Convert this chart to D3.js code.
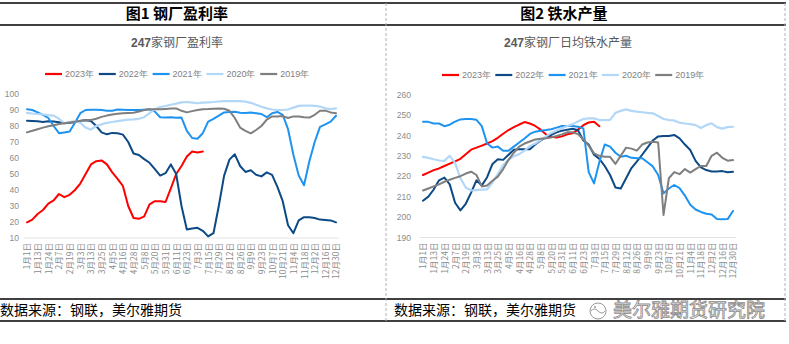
<!DOCTYPE html>
<html><head><meta charset="utf-8">
<script src="https://cdn.jsdelivr.net/npm/d3@7"></script>
<style>
html,body{margin:0;padding:0;background:#fff;}
svg{display:block;}
</style></head>
<body>
<svg id="c" width="789" height="344"></svg>
<script>
// ---------- DATA ----------
const categories = ["1月1日","1月7日","1月13日","1月18日","1月24日","1月31日","2月7日","2月13日","2月19日","2月25日",
"3月3日","3月8日","3月13日","3月19日","3月25日","3月30日","4月5日","4月10日","4月16日","4月22日",
"4月28日","5月3日","5月8日","5月14日","5月20日","5月25日","5月31日","6月5日","6月11日","6月17日",
"6月23日","6月28日","7月3日","7月8日","7月15日","7月22日","7月29日","8月5日","8月12日","8月19日",
"8月26日","9月2日","9月9日","9月16日","9月23日","9月30日","10月7日","10月14日","10月21日","10月28日",
"11月4日","11月11日","11月18日","11月25日","12月2日","12月9日","12月16日","12月23日","12月30日"];
const tickLabels = categories.filter((d,i)=>i%2===0);
const seriesNames = ["2023年","2022年","2021年","2020年","2019年"];
const seriesColors = ["#ff0000","#0d4a85","#1f93f0","#b3d7f7","#7f7f7f"];

const profitTicks = [10,20,30,40,50,60,70,80,90,100];
const profit2023 = [19.8,21.5,25,27.5,31.5,33.5,37.5,35.5,37,40,44,50,56,58,58.5,56,51,47,42.5,30,22.5,22,23.5,31,33,33,32.5,41,50,55,61,64,63.5,64];
const profit2022 = [83.3,83.2,83,82.5,83,82.8,82.3,81.7,82,82.3,83.2,83.6,83.1,80,76,74.8,75.7,75.5,74.6,70,62.8,61.9,59.3,57,53,49,50.5,56,50,30,15.3,16,16.4,14.5,11,13,30,49,59,62.3,55,51.3,52.3,49.5,48.5,51,49.5,42,33,18,13,21,23,23,22.5,21.5,21.25,21,19.8];
const profit2021 = [90.5,90,88.5,87,85,80,75.5,76,76.5,82,88,90,90.2,90.2,90,89.6,89.5,90.3,90.2,90,90,90,90.2,90.4,89,85.5,85.3,85.5,85.2,85.3,77,72.5,72,75.5,82.7,84.5,86.5,88.5,88.8,88.9,88.3,88.2,88.5,88,87.5,85.5,88,88.8,87,78,62,49,43,58,70,79.5,81,82.7,86.4];
const profit2020 = [88.2,87.8,87.5,87.2,86.8,86.5,84.5,81.7,82.5,83,82,79,77.7,80,81,82,82.5,83,83.5,84,84.2,84.5,85.5,88,90.5,91.8,92.5,93.3,94,94.8,95,94.6,94.2,94.6,94.8,95,95.3,95.5,95.5,95.5,95.5,95.2,94.5,93.3,92,91,90.3,90,90,90.3,91.5,92.6,92.7,92.7,92.6,92.2,91,90.5,91];
const profit2019 = [76,77,78,79,79.8,80.5,81.2,81.7,82.2,82.7,83.3,83.7,83.7,84.5,85.7,86.5,87.2,87.6,88,88.2,88.3,89,90,90.4,90.4,90.5,90.7,90.9,91,89.5,88.5,89.3,90,90.5,90.6,90.8,91,90.8,89.5,85,79,77,75.4,77.5,80,84,86,86,86.2,85,86,86,85.5,85.3,87,89.5,89.6,88.5,88];

const ironTicks = [190,200,210,220,230,240,250,260];
const iron2023 = [220.6,221.8,223,223.8,225,226.2,227.3,228.5,230.8,233,234,235,236,237.2,238.8,240.8,242.6,244,245.3,246.5,245.8,244.6,242.8,240.5,239.3,239,239.5,240.5,241,242.8,245,246.3,246.7,244.5];
const iron2022 = [208,210,213.5,218,219.3,216,207,203.3,206.5,212,218,215.5,219.5,226,228.3,228,230.5,233,233.2,233.2,233.2,235.5,237.5,239,240.3,241.5,242.3,242.8,243.2,242.5,237.5,235.5,230.5,228.5,225,220.6,214.5,214,219,224,227.1,230.5,234,237.5,239.5,239.7,239.7,240.2,238.5,235.5,232.8,227.5,224.3,223,222.3,222.3,222.5,221.9,222.2];
const iron2021 = [246.6,246.6,245.8,245.8,244.5,245.2,246.7,247.8,248,248,247.6,244.5,236,234,234.5,232.5,232.5,234.5,236.5,238.5,240.7,241.8,242.3,242.6,243,243.8,244.6,244.6,244.6,244.2,243.4,222,216.5,227,235.5,234.5,231.5,229.5,230,229,228.8,228.8,226.8,224.8,220.6,211.6,214,215.7,214.2,210.5,206,203.7,202.5,201.6,201.3,199,198.9,199,203];
const iron2020 = [229.5,229,228.3,227.7,227.5,230,226.5,219,214.5,213,213.2,213.4,213.6,217,221,225.5,228,229.8,230.8,232.5,234.8,236,237.8,239.5,241.2,242.4,243.5,244.6,245.5,246.8,248,248.3,248.3,247.5,247.5,247.6,251,252,252.7,252,251.6,251.3,251,250.8,249.5,248,247.5,247.3,246.2,245.8,245.5,245,243.6,245,245.9,244,243.3,244,244.2];
const iron2019 = [213,214,215,216,217.3,218.3,219.2,220,221.3,222.2,220.6,215,215.5,217.8,219.8,223.5,228,231.5,234.5,236,237,238,238.3,238.6,239,239.7,240.5,241.5,241.5,240.6,238,235,231.2,230,229.5,229.5,226,230,234,233.5,232.5,235.5,236.5,236.9,236.5,201,219,222,221,223.5,221.8,223.5,225,225,230,231.5,229,227.6,227.9];

// ---------- DRAW ----------
const svg = d3.select("#c");
const CJK = "'Noto Sans CJK SC','Noto Sans',sans-serif";
const LAT = "'Liberation Sans','DejaVu Sans',sans-serif";

// frame lines
const frame = svg.append("g");
[3,25,299,321].forEach(y=>{
  frame.append("line").attr("x1",0).attr("x2",786).attr("y1",y).attr("y2",y)
    .attr("stroke","#000").attr("stroke-width",1.3);
});
[386,785].forEach(x=>{
  frame.append("line").attr("x1",x).attr("x2",x).attr("y1",3).attr("y2",322)
    .attr("stroke","#b0b0b0").attr("stroke-width",1).attr("stroke-dasharray","3,2");
});

// titles
svg.append("text").attr("x",177).attr("y",19).attr("text-anchor","middle")
  .attr("font-family",CJK).attr("font-size",15).attr("font-weight","bold").text("图1 钢厂盈利率");
svg.append("text").attr("x",564).attr("y",19).attr("text-anchor","middle")
  .attr("font-family",CJK).attr("font-size",15).attr("font-weight","bold").text("图2 铁水产量");

// source texts
[0,394].forEach(x=>{
  svg.append("text").attr("x",x).attr("y",315).attr("font-family",CJK).attr("font-size",14)
    .attr("fill","#000").text("数据来源：钢联，美尔雅期货");
});

// watermark
const wm = svg.append("g");
wm.append("circle").attr("cx",598).attr("cy",311).attr("r",8).attr("fill","#fff").attr("stroke","#999").attr("stroke-width",1);
wm.append("path").attr("d","M591,311 q3,-4 7,0 t7,0").attr("fill","none").attr("stroke","#999").attr("stroke-width",1);
wm.append("circle").attr("cx",595).attr("cy",307).attr("r",1).attr("fill","#999");
wm.append("text").attr("x",613).attr("y",317).attr("font-family",CJK).attr("font-size",19)
  .attr("fill","#fff").attr("stroke","#8a8a8a").attr("stroke-width",0.8).text("美尔雅期货研究院");

function drawChart(opt){
  const g = svg.append("g");
  const x = d3.scalePoint().domain(categories).range(opt.xRange);
  const y = d3.scaleLinear().domain(opt.yDomain).range(opt.yRange);

  // subtitle
  const st = g.append("text").attr("x",opt.subX).attr("y",47).attr("text-anchor","middle")
    .attr("font-family",CJK).attr("font-size",12).attr("fill","#595959");
  st.append("tspan").attr("font-family",LAT).attr("font-weight","bold").text("247");
  st.append("tspan").text(opt.subtitle);

  // baseline
  g.append("line").attr("x1",opt.xRange[0]-3).attr("x2",opt.xRange[1]+3)
    .attr("y1",y(opt.yDomain[0])).attr("y2",y(opt.yDomain[0]))
    .attr("stroke","#e3e3e3").attr("stroke-width",1.2);

  // y axis
  const ya = g.append("g").attr("transform",`translate(${opt.yLabelX},0)`)
    .call(d3.axisLeft(y).tickValues(opt.ticks).tickSize(0).tickPadding(0));
  ya.select(".domain").remove();
  ya.selectAll("text").attr("font-family",LAT).attr("font-size",8.5).attr("fill","#8c8c8c");

  // x axis labels
  const xa = g.append("g").attr("transform",`translate(0,${y(opt.yDomain[0])})`)
    .call(d3.axisBottom(x).tickValues(tickLabels).tickSize(0).tickPadding(0));
  xa.select(".domain").remove();
  xa.selectAll("text").attr("font-family",CJK).attr("font-size",8.5).attr("fill","#8c8c8c")
    .attr("text-anchor","end").attr("transform","rotate(-90)")
    .attr("x",-5).attr("y",0).attr("dy","0.35em");

  // lines (2023 drawn first, 2019 last, like Excel series order)
  const line = d3.line().x((d,i)=>x(categories[i])).y(d=>y(d)).curve(d3.curveLinear);
  opt.series.forEach((s,k)=>{
    g.append("path").datum(s).attr("d",line).attr("fill","none")
      .attr("stroke",seriesColors[k]).attr("stroke-width",k===3?2.2:2)
      .attr("stroke-linejoin","round").attr("stroke-linecap","round");
  });

  // legend
  const lg = g.append("g");
  seriesNames.forEach((n,k)=>{
    const lx = opt.legX + k*opt.legStep;
    lg.append("line").attr("x1",lx).attr("x2",lx+17).attr("y1",opt.legY).attr("y2",opt.legY)
      .attr("stroke",seriesColors[k]).attr("stroke-width",2.2);
    lg.append("text").attr("x",lx+20).attr("y",opt.legY).attr("dy","0.35em")
      .attr("font-family",LAT).attr("font-size",9).attr("fill","#7f7f7f").text(n);
  });
}

drawChart({
  xRange:[27,336], yDomain:[10,100], yRange:[238,94], ticks:profitTicks, yLabelX:19,
  subX:177, subtitle:"家钢厂盈利率",
  series:[profit2023,profit2022,profit2021,profit2020,profit2019],
  legX:45, legStep:53.8, legY:74
});
drawChart({
  xRange:[423,733], yDomain:[190,260], yRange:[237.5,94.5], ticks:ironTicks, yLabelX:411,
  subX:568, subtitle:"家钢厂日均铁水产量",
  series:[iron2023,iron2022,iron2021,iron2020,iron2019],
  legX:442, legStep:53.3, legY:75
});
</script>
</body></html>
